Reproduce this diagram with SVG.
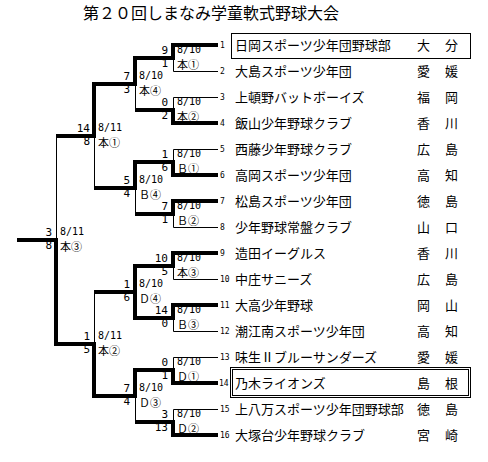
<svg xmlns="http://www.w3.org/2000/svg" width="488" height="462" viewBox="0 0 488 462">
<style>
.bg{fill:#fff}
.thick{fill:none;stroke:#000;stroke-width:4;stroke-linejoin:miter}
.thin{fill:none;stroke:#000;stroke-width:1}
.box{fill:none;stroke:#000;stroke-width:1}
.title{font-family:"Noto Sans CJK JP",sans-serif;font-size:16px;fill:#000}
.no{font-family:"DejaVu Sans Mono",monospace;font-size:8px;fill:#000}
.nm{font-family:"Noto Sans CJK JP",sans-serif;font-size:13px;fill:#000}
.pf{font-family:"Noto Sans CJK JP",sans-serif;font-size:13px;fill:#000;letter-spacing:1px}
.sc{font-family:"DejaVu Sans Mono",monospace;font-size:11px;fill:#000;text-anchor:end}
.dt{font-family:"DejaVu Sans Mono",monospace;font-size:10px;fill:#000}
.lb{font-family:"Noto Sans CJK JP",sans-serif;font-size:11px;fill:#000}
</style>
<rect class="bg" x="0" y="0" width="488" height="462"/>
<g id="title"><text class="title" x="83" y="19">第２０回しまなみ学童軟式野球大会</text></g>

<g id="connectors">
  <path class="thin" d="M218,71.5H173.5V58 M218,97.5H173.5V110 M218,149.5H173.5V162 M218,227.5H173.5V214 M218,279.5H173.5V266 M218,331.5H173.5V318 M218,357.5H173.5V370 M218,409.5H173.5V422"/>
  <path class="thin" d="M135.5,84V110 M135.5,188V214 M135.5,396V422 M94.5,136V188 M94.5,292V344 M56.5,136V240"/>
  <path class="thick" d="M218,45H173V58H135V84H94V136H56"/>
  <path class="thick" d="M218,123H173V110H135"/>
  <path class="thick" d="M218,175H173V162H135V188H94"/>
  <path class="thick" d="M218,201H173V214H135"/>
  <path class="thick" d="M218,253H173V266H135V292"/>
  <path class="thick" d="M218,305H173V318H135V292H94"/>
  <path class="thick" d="M218,383H173V370H135V396H94V344H56V240H17"/>
  <path class="thick" d="M218,435H173V422H135"/>
</g>

<g id="matches">
  <g id="m-r1-1"><text class="sc" x="168" y="54">9</text><text class="sc" x="168" y="67">1</text><text class="dt" x="177" y="53">8/10</text><text class="lb" x="177" y="69">本①</text></g>
  <g id="m-r1-2"><text class="sc" x="168" y="106">0</text><text class="sc" x="168" y="119">2</text><text class="dt" x="177" y="105">8/10</text><text class="lb" x="177" y="121">本②</text></g>
  <g id="m-r1-3"><text class="sc" x="168" y="158">1</text><text class="sc" x="168" y="171">6</text><text class="dt" x="177" y="157">8/10</text><text class="lb" x="177" y="173">Ｂ①</text></g>
  <g id="m-r1-4"><text class="sc" x="168" y="210">7</text><text class="sc" x="168" y="223">1</text><text class="dt" x="177" y="209">8/10</text><text class="lb" x="177" y="225">Ｂ②</text></g>
  <g id="m-r1-5"><text class="sc" x="168" y="262">10</text><text class="sc" x="168" y="275">5</text><text class="dt" x="177" y="261">8/10</text><text class="lb" x="177" y="277">本③</text></g>
  <g id="m-r1-6"><text class="sc" x="168" y="314">14</text><text class="sc" x="168" y="327">0</text><text class="dt" x="177" y="313">8/10</text><text class="lb" x="177" y="329">Ｂ③</text></g>
  <g id="m-r1-7"><text class="sc" x="168" y="366">0</text><text class="sc" x="168" y="379">1</text><text class="dt" x="177" y="365">8/10</text><text class="lb" x="177" y="381">Ｄ①</text></g>
  <g id="m-r1-8"><text class="sc" x="168" y="418">3</text><text class="sc" x="168" y="431">13</text><text class="dt" x="177" y="417">8/10</text><text class="lb" x="177" y="433">Ｄ②</text></g>

  <g id="m-r2-1"><text class="sc" x="130" y="80">7</text><text class="sc" x="130" y="93">3</text><text class="dt" x="139" y="79">8/10</text><text class="lb" x="139" y="95">本④</text></g>
  <g id="m-r2-2"><text class="sc" x="130" y="184">5</text><text class="sc" x="130" y="197">4</text><text class="dt" x="139" y="183">8/10</text><text class="lb" x="139" y="199">Ｂ④</text></g>
  <g id="m-r2-3"><text class="sc" x="130" y="288">1</text><text class="sc" x="130" y="301">6</text><text class="dt" x="139" y="287">8/10</text><text class="lb" x="139" y="303">Ｄ④</text></g>
  <g id="m-r2-4"><text class="sc" x="130" y="392">7</text><text class="sc" x="130" y="405">4</text><text class="dt" x="139" y="391">8/10</text><text class="lb" x="139" y="407">Ｄ③</text></g>

  <g id="m-sf-1"><text class="sc" x="90" y="132">14</text><text class="sc" x="90" y="145">8</text><text class="dt" x="98" y="131">8/11</text><text class="lb" x="98" y="147">本①</text></g>
  <g id="m-sf-2"><text class="sc" x="90" y="340">1</text><text class="sc" x="90" y="353">5</text><text class="dt" x="98" y="339">8/11</text><text class="lb" x="98" y="355">本②</text></g>

  <g id="m-final"><text class="sc" x="52" y="236">3</text><text class="sc" x="52" y="249">8</text><text class="dt" x="60" y="235">8/11</text><text class="lb" x="60" y="251">本③</text></g>
</g>

<g id="team-1"><rect class="box" x="231.5" y="33.5" width="239" height="25"/><text class="no" x="220" y="48">1</text><text class="nm" x="235" y="50">日岡スポーツ少年団野球部</text><text class="pf" x="417" y="50">大　分</text></g>
<g id="team-2"><text class="no" x="220" y="74">2</text><text class="nm" x="235" y="76">大島スポーツ少年団</text><text class="pf" x="417" y="76">愛　媛</text></g>
<g id="team-3"><text class="no" x="220" y="100">3</text><text class="nm" x="235" y="102">上頓野バットボーイズ</text><text class="pf" x="417" y="102">福　岡</text></g>
<g id="team-4"><text class="no" x="220" y="126">4</text><text class="nm" x="235" y="128">飯山少年野球クラブ</text><text class="pf" x="417" y="128">香　川</text></g>
<g id="team-5"><text class="no" x="220" y="152">5</text><text class="nm" x="235" y="154">西藤少年野球クラブ</text><text class="pf" x="417" y="154">広　島</text></g>
<g id="team-6"><text class="no" x="220" y="178">6</text><text class="nm" x="235" y="180">高岡スポーツ少年団</text><text class="pf" x="417" y="180">高　知</text></g>
<g id="team-7"><text class="no" x="220" y="204">7</text><text class="nm" x="235" y="206">松島スポーツ少年団</text><text class="pf" x="417" y="206">徳　島</text></g>
<g id="team-8"><text class="no" x="220" y="230">8</text><text class="nm" x="235" y="232">少年野球常盤クラブ</text><text class="pf" x="417" y="232">山　口</text></g>
<g id="team-9"><text class="no" x="220" y="256">9</text><text class="nm" x="235" y="258">造田イーグルス</text><text class="pf" x="417" y="258">香　川</text></g>
<g id="team-10"><text class="no" x="220" y="282">10</text><text class="nm" x="235" y="284">中庄サニーズ</text><text class="pf" x="417" y="284">広　島</text></g>
<g id="team-11"><text class="no" x="220" y="308">11</text><text class="nm" x="235" y="310">大高少年野球</text><text class="pf" x="417" y="310">岡　山</text></g>
<g id="team-12"><text class="no" x="220" y="334">12</text><text class="nm" x="235" y="336">潮江南スポーツ少年団</text><text class="pf" x="417" y="336">高　知</text></g>
<g id="team-13"><text class="no" x="220" y="360">13</text><text class="nm" x="235" y="362">味生Ⅱブルーサンダーズ</text><text class="pf" x="417" y="362">愛　媛</text></g>
<g id="team-14"><rect class="box" x="230.5" y="367.5" width="240" height="30"/><rect class="box" x="232.5" y="369.5" width="236" height="26"/><text class="no" x="219" y="386">14</text><text class="nm" x="235" y="388">乃木ライオンズ</text><text class="pf" x="417" y="388">島　根</text></g>
<g id="team-15"><text class="no" x="220" y="412">15</text><text class="nm" x="235" y="414">上八万スポーツ少年団野球部</text><text class="pf" x="417" y="414">徳　島</text></g>
<g id="team-16"><text class="no" x="220" y="438">16</text><text class="nm" x="235" y="440">大塚台少年野球クラブ</text><text class="pf" x="417" y="440">宮　崎</text></g>
</svg>
